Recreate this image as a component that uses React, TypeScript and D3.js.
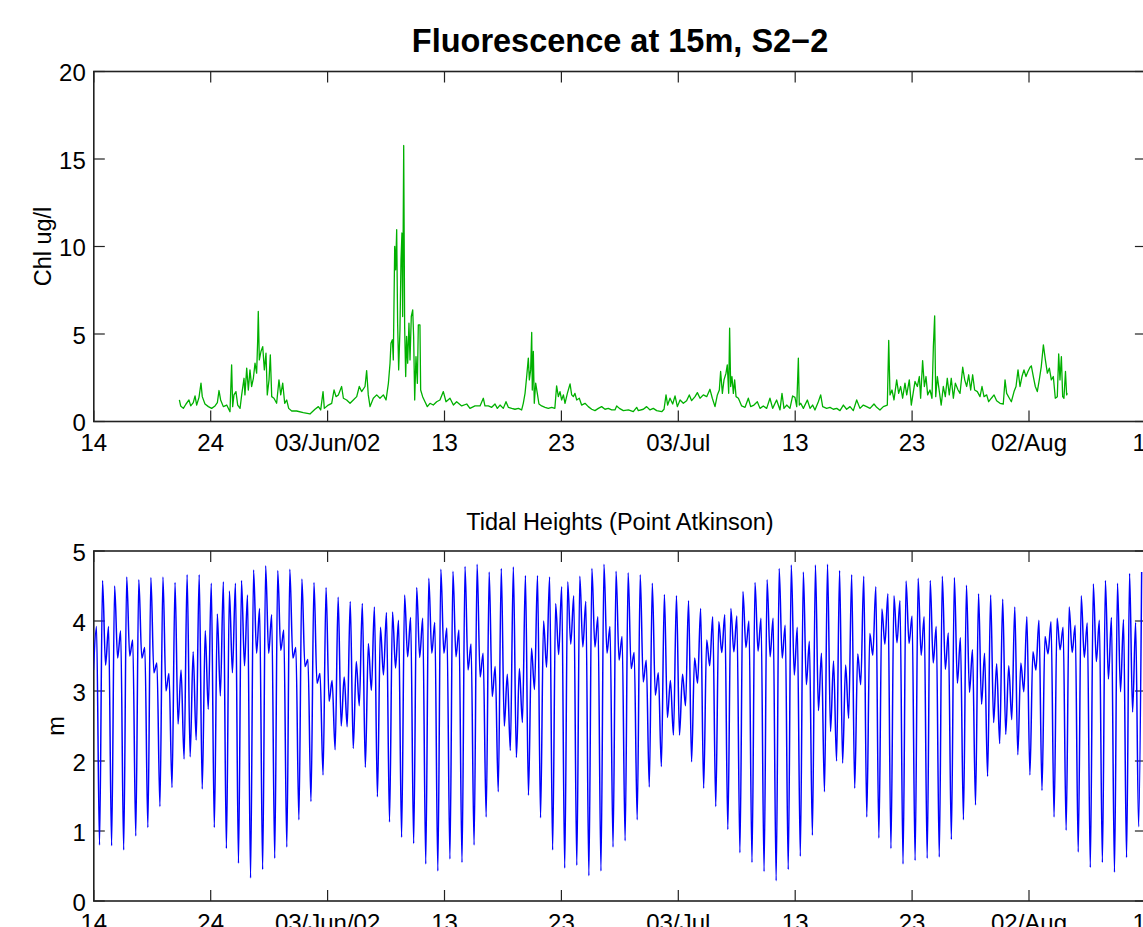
import { useEffect, useRef } from "react";
import * as d3 from "d3";

// time axis: days after 14 May 2002
const START = Date.UTC(2002, 4, 14);
const DAY = 864e5;
const tickDays = [0, 10, 20, 30, 40, 50, 60, 70, 80, 90];
const tickLabels = ["14", "24", "03/Jun/02", "13", "23", "03/Jul", "13", "23", "02/Aug", "12"];

const chlTicks = [0, 5, 10, 15, 20];
const tideTicks = [0, 1, 2, 3, 4, 5];

// fluorescence at 15 m: [days after 14 May, Chl ug/l]
const chl: [number, number][] = [
  [7.32, 1.23], [7.43, 0.89], [7.66, 0.75], [7.89, 1.0], [8.14, 1.23], [8.29, 0.89], [8.51, 1.08], [8.66, 1.46],
  [8.8, 0.94], [9.0, 1.38], [9.17, 2.19], [9.28, 1.42], [9.51, 1.0], [9.8, 0.85], [10.08, 0.75], [10.37, 0.89],
  [10.57, 1.08], [10.71, 1.77], [10.85, 1.23], [11.08, 0.85], [11.37, 0.94], [11.65, 0.56], [11.79, 3.24], [11.88, 0.85],
  [11.99, 1.52], [12.16, 1.71], [12.31, 0.94], [12.51, 0.75], [12.65, 1.52], [12.85, 2.47], [12.93, 1.52], [13.08, 3.05],
  [13.22, 1.8], [13.36, 2.95], [13.5, 2.0], [13.65, 2.47], [13.79, 3.33], [13.93, 2.76], [14.02, 4.67], [14.07, 6.29],
  [14.16, 3.52], [14.3, 4.0], [14.45, 4.28], [14.59, 2.95], [14.73, 3.9], [14.84, 1.52], [14.99, 2.38], [15.1, 3.81],
  [15.22, 1.42], [15.41, 1.33], [15.64, 1.04], [15.84, 2.38], [15.99, 1.52], [16.16, 2.19], [16.33, 1.04], [16.5, 1.23],
  [16.67, 0.75], [16.93, 0.6], [17.35, 0.6], [17.92, 0.51], [18.49, 0.43], [18.92, 0.7], [19.21, 0.85], [19.41, 0.66],
  [19.61, 1.71], [19.72, 0.75], [20.06, 0.94], [20.35, 1.04], [20.55, 1.8], [20.72, 1.42], [20.92, 1.52], [21.2, 2.0],
  [21.35, 1.33], [21.63, 1.23], [21.92, 1.04], [22.2, 1.23], [22.49, 1.42], [22.71, 2.0], [22.91, 1.71], [23.2, 2.0],
  [23.34, 2.91], [23.48, 1.52], [23.63, 0.85], [23.91, 1.33], [24.2, 1.52], [24.48, 1.33], [24.77, 1.52], [25.0, 1.23],
  [25.2, 2.18], [25.34, 3.33], [25.42, 4.47], [25.54, 4.67], [25.62, 3.52], [25.74, 10.0], [25.82, 8.67], [25.91, 10.96],
  [25.99, 5.62], [26.08, 2.95], [26.19, 5.24], [26.28, 9.25], [26.36, 10.77], [26.42, 6.0], [26.51, 15.77], [26.59, 5.43],
  [26.68, 2.57], [26.76, 4.86], [26.85, 3.33], [26.96, 5.62], [27.05, 3.52], [27.16, 6.0], [27.28, 6.38], [27.36, 4.86],
  [27.45, 1.23], [27.56, 3.71], [27.68, 2.18], [27.76, 5.52], [27.9, 5.52], [27.96, 1.8], [28.13, 1.42], [28.33, 1.13],
  [28.53, 0.85], [28.76, 1.04], [29.04, 0.94], [29.33, 1.13], [29.61, 1.23], [29.9, 1.71], [30.13, 1.13], [30.47, 1.33],
  [30.76, 0.94], [31.04, 1.13], [31.47, 0.89], [31.9, 1.0], [32.18, 0.75], [32.61, 0.89], [33.04, 0.89], [33.32, 1.33],
  [33.46, 0.89], [33.75, 0.89], [34.04, 0.81], [34.32, 1.0], [34.52, 0.75], [34.75, 0.94], [35.03, 0.75], [35.26, 1.13],
  [35.46, 0.81], [35.75, 0.75], [36.03, 0.7], [36.32, 0.75], [36.6, 0.66], [36.74, 1.04], [36.89, 1.61], [37.03, 2.57],
  [37.17, 3.62], [37.26, 2.38], [37.37, 2.95], [37.46, 5.09], [37.51, 1.8], [37.6, 4.0], [37.68, 1.04], [37.8, 2.19],
  [37.94, 1.61], [38.08, 1.0], [38.31, 0.89], [38.6, 0.81], [38.88, 0.75], [39.17, 0.81], [39.44, 0.75], [39.59, 2.03],
  [39.74, 1.42], [39.88, 1.71], [40.02, 1.23], [40.17, 1.52], [40.31, 1.04], [40.51, 1.61], [40.74, 2.15], [40.88, 1.52],
  [41.02, 1.42], [41.16, 1.61], [41.31, 1.23], [41.53, 1.33], [41.73, 0.94], [42.02, 1.04], [42.3, 0.85], [42.59, 0.7],
  [42.87, 0.62], [43.16, 0.75], [43.44, 0.85], [43.73, 0.7], [44.01, 0.75], [44.3, 0.66], [44.58, 0.66], [44.73, 0.89],
  [44.96, 0.75], [45.3, 0.62], [45.73, 0.66], [46.15, 0.56], [46.44, 0.81], [46.58, 0.62], [47.01, 0.7], [47.29, 0.85],
  [47.58, 0.66], [47.86, 0.75], [48.15, 0.62], [48.58, 0.56], [48.78, 0.7], [48.95, 1.52], [49.09, 0.94], [49.29, 1.33],
  [49.52, 1.0], [49.72, 1.46], [49.92, 0.85], [50.15, 1.23], [50.43, 1.04], [50.71, 1.19], [50.94, 1.52], [51.14, 1.19],
  [51.43, 1.42], [51.63, 1.65], [51.86, 1.33], [52.14, 1.52], [52.43, 1.42], [52.71, 1.84], [52.91, 1.33], [53.14, 0.85],
  [53.34, 1.52], [53.51, 1.8], [53.62, 2.86], [53.77, 1.61], [53.91, 2.38], [54.08, 2.76], [54.19, 3.24], [54.31, 1.61],
  [54.39, 5.33], [54.48, 2.0], [54.59, 2.57], [54.71, 1.61], [54.82, 2.38], [54.94, 1.42], [55.14, 1.33], [55.42, 0.89],
  [55.71, 0.81], [55.99, 1.33], [56.19, 0.85], [56.47, 0.94], [56.76, 1.13], [56.99, 0.75], [57.27, 0.89], [57.56, 0.75],
  [57.84, 1.33], [58.07, 0.75], [58.41, 1.23], [58.7, 0.66], [58.87, 1.61], [59.04, 0.75], [59.27, 0.94], [59.55, 0.75],
  [59.78, 1.46], [59.98, 1.38], [60.13, 0.85], [60.27, 3.62], [60.35, 0.94], [60.47, 1.04], [60.7, 0.75], [61.04, 1.23],
  [61.27, 0.75], [61.49, 0.94], [61.69, 0.66], [61.98, 1.13], [62.18, 1.52], [62.35, 0.85], [62.69, 0.75], [62.98, 0.81],
  [63.26, 0.7], [63.55, 0.75], [63.83, 0.62], [64.12, 0.94], [64.4, 0.7], [64.69, 0.85], [64.97, 0.62], [65.26, 1.23],
  [65.54, 0.75], [65.83, 0.94], [66.11, 0.85], [66.4, 0.75], [66.74, 1.0], [66.97, 0.81], [67.25, 0.66], [67.54, 0.85],
  [67.88, 0.94], [68.0, 4.63], [68.11, 1.52], [68.28, 1.8], [68.45, 1.23], [68.68, 2.38], [68.85, 1.61], [69.02, 2.0],
  [69.19, 1.33], [69.39, 2.19], [69.54, 1.52], [69.76, 2.38], [69.93, 0.94], [70.11, 1.71], [70.25, 2.29], [70.45, 2.0],
  [70.62, 2.57], [70.73, 1.33], [70.9, 3.48], [71.05, 2.0], [71.19, 2.57], [71.33, 1.52], [71.53, 1.8], [71.7, 1.33],
  [71.82, 4.28], [71.93, 6.04], [72.02, 1.42], [72.16, 2.57], [72.33, 1.71], [72.49, 0.94], [72.67, 2.0], [72.84, 1.42],
  [73.01, 2.47], [73.18, 1.52], [73.35, 2.47], [73.53, 1.33], [73.7, 2.19], [73.93, 1.8], [74.1, 1.61], [74.33, 3.1],
  [74.5, 2.38], [74.67, 2.0], [74.84, 2.67], [75.01, 1.8], [75.18, 2.67], [75.35, 1.8], [75.58, 1.71], [75.81, 1.42],
  [75.98, 2.0], [76.15, 1.42], [76.38, 1.52], [76.55, 1.13], [76.78, 1.33], [77.01, 1.52], [77.23, 1.19], [77.52, 1.04],
  [77.8, 1.0], [77.95, 2.38], [78.09, 1.61], [78.32, 1.33], [78.49, 1.13], [78.72, 1.71], [78.89, 2.0], [79.06, 2.95],
  [79.23, 2.0], [79.4, 2.57], [79.57, 2.95], [79.74, 2.57], [79.91, 2.86], [80.09, 3.1], [80.2, 3.18], [80.37, 2.57],
  [80.54, 2.0], [80.71, 1.71], [80.88, 2.38], [81.05, 3.14], [81.23, 4.38], [81.4, 3.52], [81.57, 2.76], [81.74, 3.05],
  [81.91, 2.38], [82.08, 2.57], [82.25, 1.33], [82.42, 1.42], [82.54, 3.86], [82.65, 2.38], [82.77, 3.71], [82.88, 1.42],
  [82.99, 1.33], [83.12, 2.86], [83.22, 1.52], [83.28, 1.61],
];

// tidal extremes at Point Atkinson (m), alternating high / low,
// one every quarter of a tidal day starting just before 14 May
const tideStartDay = -0.028;
const tideStepDay = 0.2584;
const tide = [
  3.3,
  3.92, 0.8, 4.58, 3.37, 3.92, 0.79, 4.5, 3.47, 3.86, 0.73, 4.63, 3.5, 3.73, 0.93, 4.59, 3.47,
  3.62, 1.05, 4.62, 3.26, 3.4, 1.35, 4.63, 3.0, 3.25, 1.62, 4.55, 2.53, 3.3, 2.03, 4.66, 2.06,
  3.56, 2.3, 4.66, 1.6, 3.86, 2.74, 4.54, 1.05, 4.1, 2.93, 4.56, 0.75, 4.43, 3.26, 4.54, 0.54,
  4.58, 3.36, 4.37, 0.33, 4.73, 3.54, 4.18, 0.45, 4.79, 3.54, 4.09, 0.61, 4.72, 3.58, 3.87, 0.77,
  4.74, 3.47, 3.62, 1.16, 4.6, 3.35, 3.45, 1.42, 4.55, 3.11, 3.25, 1.8, 4.48, 2.85, 3.15, 2.16,
  4.34, 2.5, 3.2, 2.49, 4.28, 2.18, 3.42, 2.79, 4.25, 1.91, 3.68, 3.01, 4.2, 1.49, 3.91, 3.23,
  4.12, 1.13, 4.13, 3.33, 4.01, 0.91, 4.37, 3.49, 4.05, 0.82, 4.48, 3.48, 4.04, 0.53, 4.61, 3.54,
  3.98, 0.43, 4.74, 3.54, 3.9, 0.6, 4.71, 3.49, 3.87, 0.55, 4.78, 3.3, 3.67, 0.8, 4.81, 3.2,
  3.54, 1.2, 4.7, 2.92, 3.35, 1.56, 4.75, 2.5, 3.24, 2.15, 4.77, 2.05, 3.32, 2.55, 4.65, 1.51,
  3.61, 3.02, 4.65, 1.19, 4.0, 3.34, 4.63, 0.73, 4.25, 3.52, 4.49, 0.47, 4.56, 3.67, 4.36, 0.51,
  4.64, 3.63, 4.28, 0.36, 4.75, 3.63, 4.06, 0.43, 4.81, 3.54, 3.92, 0.77, 4.71, 3.44, 3.78, 0.86,
  4.69, 3.32, 3.55, 1.16, 4.66, 3.13, 3.44, 1.63, 4.54, 2.94, 3.26, 1.92, 4.38, 2.62, 3.15, 2.37,
  4.36, 2.37, 3.24, 2.79, 4.29, 1.99, 3.47, 3.11, 4.18, 1.61, 3.73, 3.36, 4.06, 1.35, 3.99, 3.55,
  4.09, 1.02, 4.18, 3.56, 4.07, 0.69, 4.42, 3.62, 4.0, 0.55, 4.55, 3.57, 4.04, 0.42, 4.59, 3.49,
  4.04, 0.29, 4.75, 3.47, 3.94, 0.45, 4.8, 3.23, 3.91, 0.64, 4.7, 3.09, 3.71, 0.94, 4.8, 2.72,
  3.54, 1.56, 4.81, 2.42, 3.43, 2.0, 4.72, 1.97, 3.37, 2.61, 4.66, 1.61, 3.53, 3.09, 4.64, 1.2,
  3.82, 3.51, 4.49, 0.9, 4.17, 3.67, 4.39, 0.75, 4.36, 3.69, 4.29, 0.53, 4.57, 3.68, 4.07, 0.58,
  4.61, 3.51, 4.06, 0.61, 4.58, 3.4, 3.92, 0.63, 4.64, 3.31, 3.83, 0.88, 4.62, 3.11, 3.76, 1.16,
  4.51, 2.98, 3.59, 1.37, 4.39, 2.81, 3.54, 1.78, 4.37, 2.55, 3.39, 2.25, 4.31, 2.38, 3.36, 2.59,
  4.2, 2.09, 3.4, 2.99, 4.06, 1.8, 3.56, 3.3, 4.01, 1.58, 3.78, 3.53, 3.99, 1.2, 4.04, 3.59,
  3.91, 1.01, 4.2, 3.55, 3.94, 0.7, 4.36, 3.48, 3.97, 0.48, 4.53, 3.42, 4.01, 0.55, 4.58, 3.17,
  4.05, 0.41, 4.54, 2.99, 4.02, 0.62, 4.68, 2.7, 3.98, 1.06, 4.7,
];

const W = 1143;
const H = 927;
const plotLeft = 93.8;
const plotRight = 1145.9;
const TICK = 11;
const FONT = "'Liberation Sans', Arial, Helvetica, sans-serif";

const dayToDate = (d: number) => new Date(START + d * DAY);

export default function App() {
  const svgRef = useRef<SVGSVGElement>(null);

  useEffect(() => {
    document.body.style.margin = "0";
    if (!svgRef.current) return;

    const svg = d3.select(svgRef.current);
    svg.selectAll("*").remove();

    const x = d3
      .scaleUtc()
      .domain([dayToDate(0), dayToDate(90)])
      .range([plotLeft, plotRight]);

    const yChl = d3.scaleLinear().domain([0, 20]).range([421.5, 71.5]);
    const yTide = d3.scaleLinear().domain([0, 5]).range([901, 551]);

    const defs = svg.append("defs");

    // one MATLAB-style box with inward ticks on all four sides
    const drawPanel = (
      y: d3.ScaleLinear<number, number>,
      yTicks: number[],
      id: string,
    ) => {
      const [yBottom, yTop] = y.range();
      defs
        .append("clipPath")
        .attr("id", id)
        .append("rect")
        .attr("x", plotLeft)
        .attr("y", yTop)
        .attr("width", plotRight - plotLeft)
        .attr("height", yBottom - yTop);

      const g = svg.append("g");

      tickDays.forEach((d, i) => {
        const px = x(dayToDate(d));
        g.append("line")
          .attr("x1", px).attr("x2", px)
          .attr("y1", yBottom).attr("y2", yBottom - TICK)
          .attr("stroke", "#222").attr("stroke-width", 1.2);
        g.append("line")
          .attr("x1", px).attr("x2", px)
          .attr("y1", yTop).attr("y2", yTop + TICK)
          .attr("stroke", "#222").attr("stroke-width", 1.2);
        g.append("text")
          .attr("x", px)
          .attr("y", yBottom + 29.5)
          .attr("text-anchor", "middle")
          .attr("font-family", FONT)
          .attr("font-size", 24)
          .attr("fill", "#000")
          .text(tickLabels[i]);
      });

      yTicks.forEach((t) => {
        const py = y(t);
        g.append("line")
          .attr("x1", plotLeft).attr("x2", plotLeft + TICK)
          .attr("y1", py).attr("y2", py)
          .attr("stroke", "#222").attr("stroke-width", 1.2);
        g.append("line")
          .attr("x1", plotRight).attr("x2", plotRight - TICK)
          .attr("y1", py).attr("y2", py)
          .attr("stroke", "#222").attr("stroke-width", 1.2);
        g.append("text")
          .attr("x", plotLeft - 8)
          .attr("y", py + 1)
          .attr("text-anchor", "end")
          .attr("dominant-baseline", "central")
          .attr("font-family", FONT)
          .attr("font-size", 24)
          .attr("fill", "#000")
          .text(t);
      });

      g.append("rect")
        .attr("x", plotLeft)
        .attr("y", yTop)
        .attr("width", plotRight - plotLeft)
        .attr("height", yBottom - yTop)
        .attr("fill", "none")
        .attr("stroke", "#222")
        .attr("stroke-width", 1.6);
    };

    drawPanel(yChl, chlTicks, "clip-chl");
    drawPanel(yTide, tideTicks, "clip-tide");

    // fluorescence line
    const chlLine = d3
      .line<[number, number]>()
      .x((d) => x(dayToDate(d[0])))
      .y((d) => yChl(d[1]));

    svg.append("path")
      .datum(chl)
      .attr("clip-path", "url(#clip-chl)")
      .attr("d", chlLine)
      .attr("fill", "none")
      .attr("stroke", "#00b000")
      .attr("stroke-width", 1.3)
      .attr("stroke-linejoin", "round");

    // tidal heights
    const tidePts: [number, number][] = tide.map((v, i) => [tideStartDay + i * tideStepDay, v]);
    const tideLine = d3
      .line<[number, number]>()
      .x((d) => x(dayToDate(d[0])))
      .y((d) => yTide(d[1]))
      .curve(d3.curveMonotoneX);

    svg.append("path")
      .datum(tidePts)
      .attr("clip-path", "url(#clip-tide)")
      .attr("d", tideLine)
      .attr("fill", "none")
      .attr("stroke", "#0000ff")
      .attr("stroke-width", 1.5)
      .attr("stroke-linejoin", "round");

    // titles and axis labels
    svg.append("text")
      .attr("x", 620)
      .attr("y", 52)
      .attr("text-anchor", "middle")
      .attr("font-family", FONT)
      .attr("font-size", 32.5)
      .attr("font-weight", "bold")
      .text("Fluorescence at 15m, S2\u22122");

    svg.append("text")
      .attr("x", 620)
      .attr("y", 530)
      .attr("text-anchor", "middle")
      .attr("font-family", FONT)
      .attr("font-size", 23.5)
      .text("Tidal Heights (Point Atkinson)");

    svg.append("text")
      .attr("transform", "translate(51,246.5) rotate(-90)")
      .attr("text-anchor", "middle")
      .attr("font-family", FONT)
      .attr("font-size", 23.5)
      .text("Chl ug/l");

    svg.append("text")
      .attr("transform", "translate(64,726) rotate(-90)")
      .attr("text-anchor", "middle")
      .attr("font-family", FONT)
      .attr("font-size", 23.5)
      .text("m");
  }, []);

  return (
    <svg
      ref={svgRef}
      width={W}
      height={H}
      viewBox={`0 0 ${W} ${H}`}
      style={{ display: "block", background: "#fff" }}
    ></svg>
  );
}
